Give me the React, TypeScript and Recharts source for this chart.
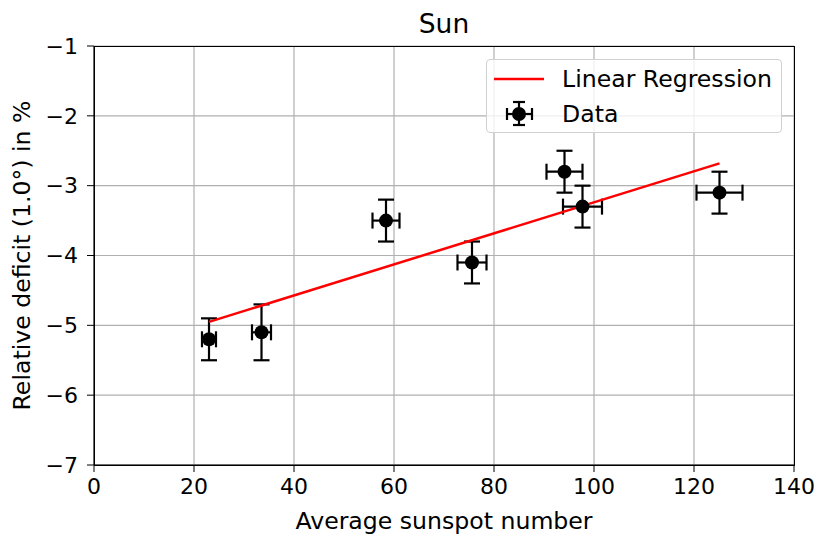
import React from 'react';
import {
  ComposedChart, Scatter, XAxis, YAxis, CartesianGrid, ErrorBar
} from 'recharts';

// Sunspot number vs. relative deficit
const sunspots = [23.0, 33.5, 58.4, 75.6, 94.1, 97.7, 125.1];
const deficits = [-5.2, -5.1, -3.5, -4.1, -2.8, -3.3, -3.1];
const sunspotErr = [1.4, 1.9, 2.7, 2.9, 3.6, 3.9, 4.6];
const deficitErr = [0.3, 0.4, 0.3, 0.3, 0.3, 0.3, 0.3];

const fitX = [23.0, 125.1];
const fitY = [-4.95, -2.68];

const xTicks = [0, 20, 40, 60, 80, 100, 120, 140];
const yTicks = [-7, -6, -5, -4, -3, -2, -1];

const W = 831;
const H = 547;
const FONT = '"DejaVu Sans", sans-serif';

const points = sunspots.map((x, i) => ({ x, y: deficits[i], xErr: sunspotErr[i], yErr: deficitErr[i] }));
const fit = fitX.map((x, i) => ({ x, y: fitY[i] }));

const minus = (v: number) => String(v).replace('-', '\u2212');

const Dot = (props: any) => <circle cx={props.cx} cy={props.cy} r={7} fill="#000" />;
const NoDot = () => null;

const App: React.FC = () => {
  const plot = { left: 94, top: 46, right: 794, bottom: 465 };
  return (
    <div style={{ position: 'absolute', left: 0, top: 0, width: W, height: H, background: '#fff', fontFamily: FONT }}>
      <ComposedChart
        width={W}
        height={H}
        margin={{ top: plot.top, right: W - plot.right, bottom: H - plot.bottom - 60, left: plot.left - 70 }}
      >
        <CartesianGrid stroke="#b0b0b0" strokeWidth={1.2} />
        <XAxis
          type="number"
          dataKey="x"
          domain={[0, 140]}
          ticks={xTicks}
          height={60}
          tickSize={7}
          tickMargin={6}
          stroke="#000"
          tick={{ fill: '#000', fontSize: 22, fontFamily: FONT }}
          label={{ value: 'Average sunspot number', position: 'insideBottom', offset: -4, fill: '#000', fontSize: 23.6, fontFamily: FONT }}
        />
        <YAxis
          type="number"
          dataKey="y"
          domain={[-7, -1]}
          ticks={yTicks}
          width={70}
          tickSize={7}
          tickMargin={9}
          stroke="#000"
          tickFormatter={minus}
          tick={{ fill: '#000', fontSize: 22, fontFamily: FONT }}
          label={{ value: 'Relative deficit (1.0°) in %', angle: -90, position: 'insideLeft', offset: -2, fill: '#000', fontSize: 23.6, fontFamily: FONT, style: { textAnchor: 'middle' } }}
        />
        <Scatter
          data={fit}
          line={{ stroke: '#ff0000', strokeWidth: 2.5 }}
          shape={NoDot}
          isAnimationActive={false}
        />
        <Scatter data={points} fill="#000" shape={Dot} isAnimationActive={false}>
          <ErrorBar dataKey="yErr" direction="y" width={8} stroke="#000" strokeWidth={2.2} />
          <ErrorBar dataKey="xErr" direction="x" width={8} stroke="#000" strokeWidth={2.2} />
        </Scatter>
      </ComposedChart>

      {/* full frame around the plot */}
      <div style={{
        position: 'absolute', left: plot.left - 0.5, top: plot.top - 0.5,
        width: plot.right - plot.left + 1, height: plot.bottom - plot.top + 1,
        border: '1.5px solid #000', boxSizing: 'border-box', pointerEvents: 'none'
      }} />

      <div style={{ position: 'absolute', left: plot.left, width: plot.right - plot.left, top: 9, textAlign: 'center', fontSize: 26.5, lineHeight: '30px' }}>Sun</div>

      {/* legend */}
      <div style={{
        position: 'absolute', left: 486, top: 59, width: 296, height: 74,
        border: '1.3px solid #d0d0d0', borderRadius: 4, background: 'rgba(255,255,255,0.8)', boxSizing: 'border-box'
      }}>
        <svg width={70} height={74} style={{ position: 'absolute', left: 0, top: 0 }}>
          <line x1={7} y1={19} x2={57} y2={19} stroke="#ff0000" strokeWidth={2.5} />
          <line x1={20} y1={54} x2={45} y2={54} stroke="#000" strokeWidth={2.2} />
          <line x1={20} y1={48} x2={20} y2={60} stroke="#000" strokeWidth={2.2} />
          <line x1={45} y1={48} x2={45} y2={60} stroke="#000" strokeWidth={2.2} />
          <line x1={32} y1={42} x2={32} y2={65} stroke="#000" strokeWidth={2.2} />
          <line x1={26} y1={42} x2={38} y2={42} stroke="#000" strokeWidth={2.2} />
          <line x1={26} y1={65} x2={38} y2={65} stroke="#000" strokeWidth={2.2} />
          <circle cx={32} cy={54} r={7} fill="#000" />
        </svg>
        <div style={{ position: 'absolute', left: 75, top: 5, fontSize: 23.6, lineHeight: '28px' }}>Linear Regression</div>
        <div style={{ position: 'absolute', left: 75, top: 40, fontSize: 23.6, lineHeight: '28px' }}>Data</div>
      </div>
    </div>
  );
};

export default App;
